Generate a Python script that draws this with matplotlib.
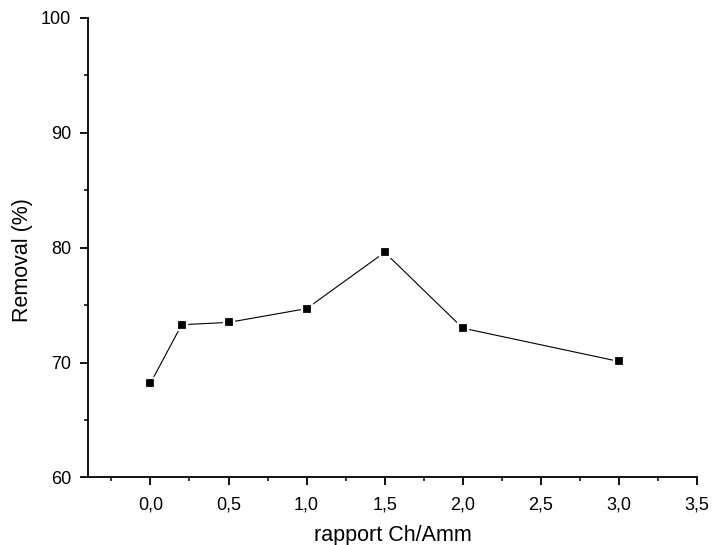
import matplotlib
matplotlib.use("Agg")
import matplotlib.pyplot as plt
from matplotlib.ticker import MultipleLocator, FixedLocator

plt.rcParams['font.family'] = ['Liberation Sans', 'DejaVu Sans']

# Chitosan / ammonium ratio and corresponding removal efficiency
ratio = [0.0, 0.2, 0.5, 1.0, 1.5, 2.0, 3.0]
removal = [68.2, 73.3, 73.5, 74.7, 79.6, 73.0, 70.1]

x_ticks = [0.0, 0.5, 1.0, 1.5, 2.0, 2.5, 3.0, 3.5]
x_tick_labels = ["0,0", "0,5", "1,0", "1,5", "2,0", "2,5", "3,0", "3,5"]
y_ticks = [60, 70, 80, 90, 100]
y_tick_labels = ["60", "70", "80", "90", "100"]

fig = plt.figure(figsize=(7.13, 5.45), dpi=100)
ax = fig.add_axes([0.1234, 0.1239, 0.8542, 0.8431])

ax.plot(ratio, removal, color='black', linewidth=0.8,
        marker='s', markersize=6.5, markerfacecolor='black',
        markeredgecolor='white', markeredgewidth=1.6, zorder=3)

ax.set_xlim(-0.4, 3.5)
ax.set_ylim(60, 100)

ax.xaxis.set_major_locator(FixedLocator(x_ticks))
ax.set_xticklabels(x_tick_labels)
ax.xaxis.set_minor_locator(MultipleLocator(0.25))
ax.yaxis.set_major_locator(FixedLocator(y_ticks))
ax.set_yticklabels(y_tick_labels)
ax.yaxis.set_minor_locator(MultipleLocator(5))

for side in ('top', 'right'):
    ax.spines[side].set_visible(False)
for side in ('left', 'bottom'):
    ax.spines[side].set_linewidth(1.3)

ax.tick_params(which='major', direction='out', length=6, width=1.3,
               labelsize=13, pad=6)
ax.tick_params(axis='x', which='major', pad=7.5)
ax.tick_params(which='minor', direction='out', length=3, width=1.1)

ax.set_xlabel("rapport Ch/Amm", fontsize=15.5, labelpad=8.5)
ax.set_ylabel("Removal (%)", fontsize=15.5)
ax.yaxis.set_label_coords(-0.090, 0.473)

fig.savefig("out.png", dpi=100)
